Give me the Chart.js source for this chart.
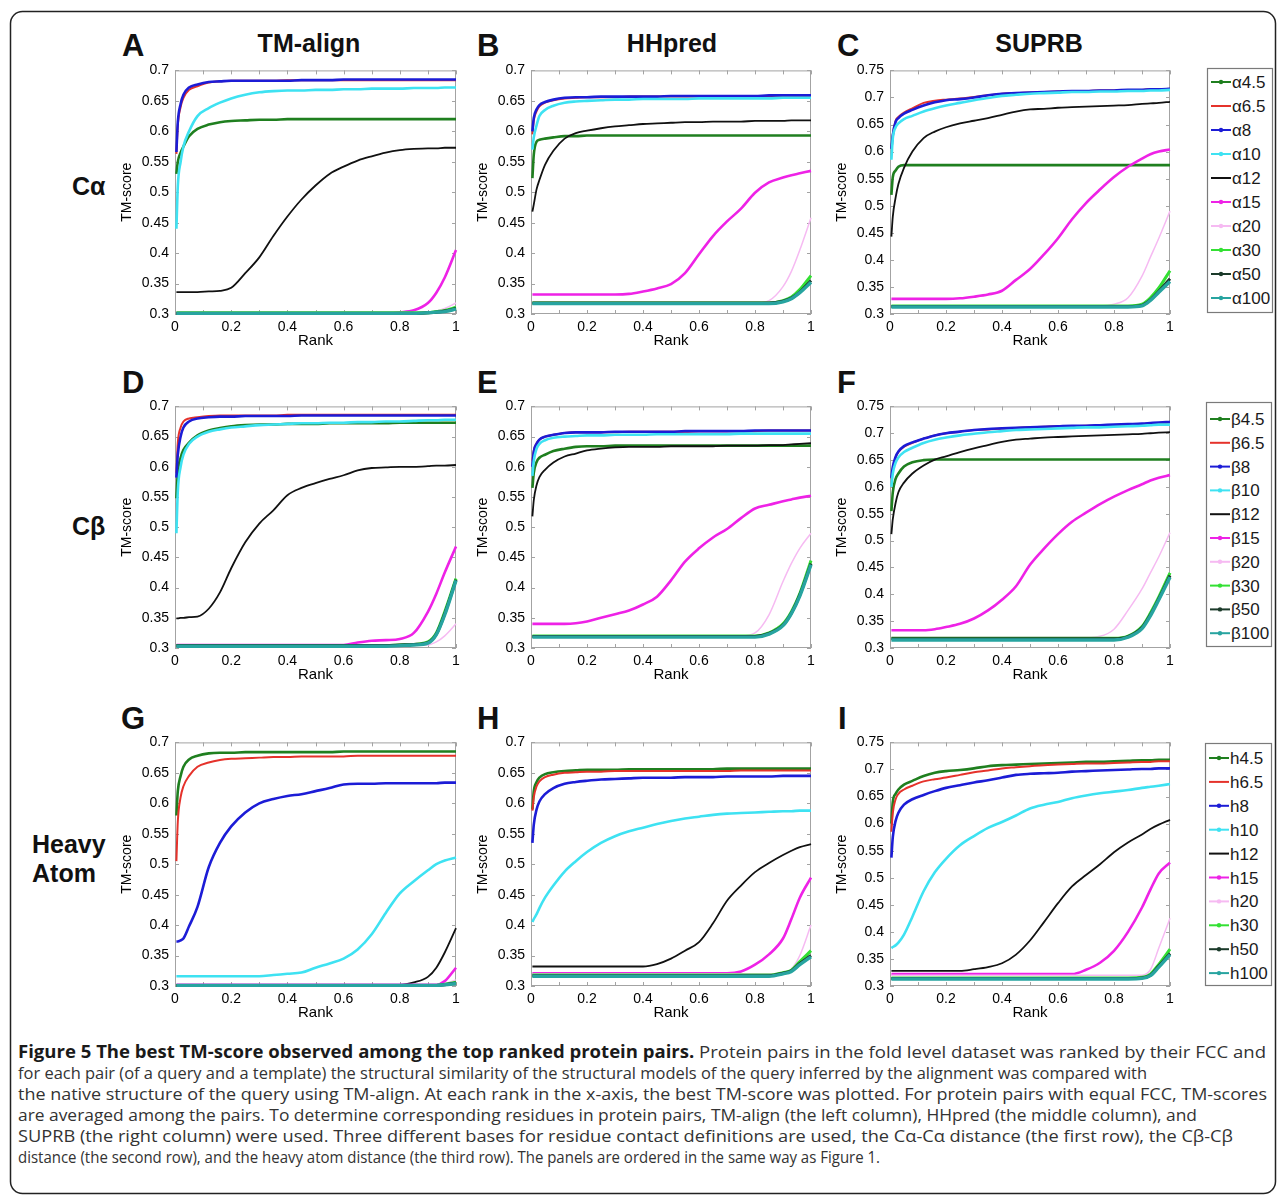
<!DOCTYPE html>
<html>
<head>
<meta charset="utf-8">
<title>Figure 5 - best TM-score among top ranked protein pairs</title>
<script src="https://cdn.jsdelivr.net/npm/chart.js@4"></script>
<style>
  html, body { margin: 0; padding: 0; background: #fff; }
  #fig { position: relative; width: 1285px; height: 1198px; background: #fff; overflow: hidden; }
  #overlay { position: absolute; left: 0; top: 0; }
  canvas { position: absolute; }
</style>
</head>
<body>
<div id="fig">
<svg id="overlay" width="1285" height="1198" xmlns="http://www.w3.org/2000/svg">
  <rect x="10.5" y="11.5" width="1265" height="1182" rx="12" ry="12" fill="none" stroke="#222" stroke-width="1.5"/>
  <g font-family="'Liberation Sans', Arial, sans-serif" font-weight="bold" fill="#111">
    <text x="122" y="56" font-size="31">A</text>
    <text x="477" y="56" font-size="31">B</text>
    <text x="837" y="56" font-size="31">C</text>
    <text x="122" y="393" font-size="31">D</text>
    <text x="477" y="393" font-size="31">E</text>
    <text x="837" y="393" font-size="31">F</text>
    <text x="121" y="729" font-size="31">G</text>
    <text x="477" y="729" font-size="31">H</text>
    <text x="838" y="729" font-size="31">I</text>
    <text x="309" y="52" font-size="25" text-anchor="middle">TM-align</text>
    <text x="672" y="52" font-size="25" text-anchor="middle">HHpred</text>
    <text x="1039" y="52" font-size="25" text-anchor="middle">SUPRB</text>
    <text x="72" y="195" font-size="25">Cα</text>
    <text x="72" y="535" font-size="25">Cβ</text>
    <text x="32" y="853" font-size="25">Heavy</text>
    <text x="32" y="882" font-size="25">Atom</text>
  </g>
  <g id="legends"></g>
  <g font-family="'Open Sans', 'Noto Sans', sans-serif" font-size="17" fill="#333">
    <text x="18" y="1058" textLength="1248" lengthAdjust="spacingAndGlyphs"><tspan font-weight="bold" fill="#1a1a1a">Figure 5 The best TM-score observed among the top ranked protein pairs.</tspan> Protein pairs in the fold level dataset was ranked by their FCC and</text>
    <text x="18" y="1079" textLength="1129" lengthAdjust="spacingAndGlyphs">for each pair (of a query and a template) the structural similarity of the structural models of the query inferred by the alignment was compared with</text>
    <text x="18" y="1100" textLength="1249" lengthAdjust="spacingAndGlyphs">the native structure of the query using TM-align. At each rank in the x-axis, the best TM-score was plotted. For protein pairs with equal FCC, TM-scores</text>
    <text x="18" y="1121" textLength="1179" lengthAdjust="spacingAndGlyphs">are averaged among the pairs. To determine corresponding residues in protein pairs, TM-align (the left column), HHpred (the middle column), and</text>
    <text x="18" y="1142" textLength="1215" lengthAdjust="spacingAndGlyphs">SUPRB (the right column) were used. Three different bases for residue contact definitions are used, the Cα-Cα distance (the first row), the Cβ-Cβ</text>
    <text x="18" y="1163" textLength="862" lengthAdjust="spacingAndGlyphs">distance (the second row), and the heavy atom distance (the third row). The panels are ordered in the same way as Figure 1.</text>
  </g>
</svg>
</div>
<script>
// rank positions shared by every curve
const RANK = [0.005, 0.01, 0.02, 0.03, 0.05, 0.08, 0.12, 0.16, 0.2, 0.25, 0.3, 0.35, 0.4,
              0.45, 0.5, 0.55, 0.6, 0.65, 0.7, 0.75, 0.8, 0.85, 0.9, 0.93, 0.96, 1.0];

// A: TM-align, C-alpha
const A45 = [0.53, 0.55, 0.565, 0.575, 0.592, 0.604, 0.611, 0.615, 0.617, 0.618, 0.619, 0.619, 0.62,
             0.62, 0.62, 0.62, 0.62, 0.62, 0.62, 0.62, 0.62, 0.62, 0.62, 0.62, 0.62, 0.62];
const A65 = [0.563, 0.61, 0.64, 0.655, 0.668, 0.674, 0.68, 0.682, 0.683, 0.683, 0.683, 0.683, 0.684,
             0.684, 0.684, 0.684, 0.684, 0.684, 0.684, 0.684, 0.684, 0.684, 0.684, 0.684, 0.684, 0.684];
const A8 = [0.566, 0.615, 0.645, 0.66, 0.672, 0.677, 0.681, 0.682, 0.683, 0.683, 0.683, 0.683, 0.683,
            0.684, 0.684, 0.684, 0.685, 0.685, 0.685, 0.685, 0.685, 0.685, 0.685, 0.685, 0.685, 0.685];
const A10 = [0.44, 0.51, 0.55, 0.575, 0.6, 0.625, 0.638, 0.647, 0.654, 0.66, 0.664, 0.666, 0.667,
             0.667, 0.668, 0.668, 0.669, 0.669, 0.67, 0.67, 0.67, 0.671, 0.671, 0.671, 0.672, 0.672];
const A12 = [0.336, 0.336, 0.336, 0.336, 0.336, 0.336, 0.337, 0.338, 0.343, 0.367, 0.393, 0.428, 0.46,
             0.488, 0.511, 0.53, 0.542, 0.552, 0.559, 0.565, 0.569, 0.571, 0.572, 0.572, 0.573, 0.573];
const A15 = [0.302, 0.302, 0.302, 0.302, 0.302, 0.302, 0.302, 0.302, 0.302, 0.302, 0.302, 0.302, 0.302,
             0.302, 0.302, 0.302, 0.302, 0.302, 0.302, 0.302, 0.303, 0.306, 0.318, 0.335, 0.36, 0.405];
const A20 = [0.302, 0.302, 0.302, 0.302, 0.302, 0.302, 0.302, 0.302, 0.302, 0.302, 0.302, 0.302, 0.302,
             0.302, 0.302, 0.302, 0.302, 0.302, 0.302, 0.302, 0.302, 0.302, 0.303, 0.305, 0.309, 0.318];
const A30 = [0.302, 0.302, 0.302, 0.302, 0.302, 0.302, 0.302, 0.302, 0.302, 0.302, 0.302, 0.302, 0.302,
             0.302, 0.302, 0.302, 0.302, 0.302, 0.302, 0.302, 0.302, 0.302, 0.302, 0.304, 0.306, 0.311];
const A50 = [0.301, 0.301, 0.301, 0.301, 0.301, 0.301, 0.301, 0.301, 0.301, 0.301, 0.301, 0.301, 0.301,
             0.301, 0.301, 0.301, 0.301, 0.301, 0.301, 0.301, 0.301, 0.301, 0.302, 0.303, 0.305, 0.309];
const A100 = [0.301, 0.301, 0.301, 0.301, 0.301, 0.301, 0.301, 0.301, 0.301, 0.301, 0.301, 0.301, 0.301,
              0.301, 0.301, 0.301, 0.301, 0.301, 0.301, 0.301, 0.301, 0.301, 0.302, 0.303, 0.304, 0.308];

// B: HHpred, C-alpha
const B45 = [0.523, 0.562, 0.583, 0.586, 0.588, 0.59, 0.592, 0.592, 0.593, 0.593, 0.593, 0.593, 0.593,
             0.593, 0.593, 0.593, 0.593, 0.593, 0.593, 0.593, 0.593, 0.593, 0.593, 0.593, 0.593, 0.593];
const B65 = [0.595, 0.618, 0.633, 0.641, 0.647, 0.651, 0.654, 0.655, 0.656, 0.656, 0.656, 0.657, 0.657,
             0.657, 0.657, 0.657, 0.657, 0.657, 0.657, 0.658, 0.658, 0.658, 0.658, 0.658, 0.658, 0.658];
const B8 = [0.6, 0.622, 0.636, 0.643, 0.648, 0.652, 0.655, 0.656, 0.656, 0.657, 0.657, 0.657, 0.657,
            0.657, 0.658, 0.658, 0.658, 0.658, 0.658, 0.658, 0.658, 0.659, 0.659, 0.659, 0.659, 0.659];
const B10 = [0.57, 0.59, 0.61, 0.625, 0.635, 0.642, 0.647, 0.649, 0.65, 0.651, 0.652, 0.652, 0.653,
             0.653, 0.653, 0.653, 0.654, 0.654, 0.654, 0.654, 0.654, 0.654, 0.655, 0.655, 0.655, 0.655];
const B12 = [0.468, 0.48, 0.505, 0.52, 0.545, 0.568, 0.588, 0.597, 0.601, 0.605, 0.608, 0.61, 0.612,
             0.613, 0.614, 0.615, 0.615, 0.616, 0.616, 0.616, 0.617, 0.617, 0.617, 0.618, 0.618, 0.618];
const B15 = [0.332, 0.332, 0.332, 0.332, 0.332, 0.332, 0.332, 0.332, 0.332, 0.332, 0.332, 0.333, 0.337,
             0.342, 0.349, 0.367, 0.398, 0.428, 0.452, 0.473, 0.499, 0.516, 0.524, 0.528, 0.531, 0.535];
const B20 = [0.318, 0.318, 0.318, 0.318, 0.318, 0.318, 0.318, 0.318, 0.318, 0.318, 0.318, 0.318, 0.318,
             0.318, 0.318, 0.318, 0.318, 0.318, 0.318, 0.318, 0.318, 0.322, 0.345, 0.37, 0.405, 0.458];
const B30 = [0.318, 0.318, 0.318, 0.318, 0.318, 0.318, 0.318, 0.318, 0.318, 0.318, 0.318, 0.318, 0.318,
             0.318, 0.318, 0.318, 0.318, 0.318, 0.318, 0.318, 0.318, 0.318, 0.322, 0.328, 0.34, 0.363];
const B50 = [0.318, 0.318, 0.318, 0.318, 0.318, 0.318, 0.318, 0.318, 0.318, 0.318, 0.318, 0.318, 0.318,
             0.318, 0.318, 0.318, 0.318, 0.318, 0.318, 0.318, 0.318, 0.318, 0.321, 0.326, 0.336, 0.355];
const B100 = [0.317, 0.317, 0.317, 0.317, 0.317, 0.317, 0.317, 0.317, 0.317, 0.317, 0.317, 0.317, 0.317,
              0.317, 0.317, 0.317, 0.317, 0.317, 0.317, 0.317, 0.317, 0.317, 0.32, 0.325, 0.335, 0.352];

// C: SUPRB, C-alpha
const C45 = [0.52, 0.553, 0.565, 0.572, 0.575, 0.575, 0.575, 0.575, 0.575, 0.575, 0.575, 0.575, 0.575,
             0.575, 0.575, 0.575, 0.575, 0.575, 0.575, 0.575, 0.575, 0.575, 0.575, 0.575, 0.575, 0.575];
const C65 = [0.605, 0.632, 0.657, 0.664, 0.672, 0.68, 0.69, 0.694, 0.696, 0.698, 0.701, 0.704, 0.707,
             0.708, 0.709, 0.71, 0.711, 0.712, 0.712, 0.713, 0.713, 0.714, 0.714, 0.715, 0.715, 0.716];
const C8 = [0.605, 0.63, 0.655, 0.662, 0.67, 0.677, 0.685, 0.691, 0.695, 0.697, 0.7, 0.704, 0.707,
            0.708, 0.709, 0.71, 0.711, 0.712, 0.712, 0.713, 0.713, 0.714, 0.714, 0.715, 0.715, 0.716];
const C10 = [0.585, 0.625, 0.645, 0.652, 0.66, 0.666, 0.674, 0.68, 0.685, 0.69, 0.695, 0.699, 0.703,
             0.705, 0.707, 0.708, 0.709, 0.71, 0.71, 0.711, 0.711, 0.712, 0.712, 0.713, 0.713, 0.714];
const C12 = [0.443, 0.48, 0.515, 0.54, 0.57, 0.6, 0.625, 0.637, 0.645, 0.652, 0.657, 0.662, 0.668,
             0.674, 0.678, 0.679, 0.681, 0.682, 0.683, 0.684, 0.685, 0.686, 0.688, 0.689, 0.69, 0.692];
const C15 = [0.328, 0.328, 0.328, 0.328, 0.328, 0.328, 0.328, 0.328, 0.328, 0.329, 0.332, 0.336, 0.343,
             0.363, 0.383, 0.41, 0.44, 0.475, 0.505, 0.53, 0.553, 0.572, 0.587, 0.595, 0.6, 0.604];
const C20 = [0.315, 0.315, 0.315, 0.315, 0.315, 0.315, 0.315, 0.315, 0.315, 0.315, 0.315, 0.315, 0.315,
             0.315, 0.315, 0.315, 0.315, 0.315, 0.315, 0.315, 0.318, 0.33, 0.37, 0.405, 0.44, 0.49];
const C30 = [0.315, 0.315, 0.315, 0.315, 0.315, 0.315, 0.315, 0.315, 0.315, 0.315, 0.315, 0.315, 0.315,
             0.315, 0.315, 0.315, 0.315, 0.315, 0.315, 0.315, 0.315, 0.315, 0.318, 0.33, 0.348, 0.38];
const C50 = [0.314, 0.314, 0.314, 0.314, 0.314, 0.314, 0.314, 0.314, 0.314, 0.314, 0.314, 0.314, 0.314,
             0.314, 0.314, 0.314, 0.314, 0.314, 0.314, 0.314, 0.314, 0.314, 0.316, 0.326, 0.342, 0.365];
const C100 = [0.313, 0.313, 0.313, 0.313, 0.313, 0.313, 0.313, 0.313, 0.313, 0.313, 0.313, 0.313, 0.313,
              0.313, 0.313, 0.313, 0.313, 0.313, 0.313, 0.313, 0.313, 0.313, 0.315, 0.325, 0.34, 0.36];

// D: TM-align, C-beta
const D45 = [0.548, 0.59, 0.615, 0.628, 0.64, 0.652, 0.66, 0.664, 0.667, 0.669, 0.67, 0.67, 0.671,
             0.671, 0.671, 0.672, 0.672, 0.672, 0.672, 0.672, 0.673, 0.673, 0.673, 0.673, 0.673, 0.673];
const D65 = [0.59, 0.64, 0.665, 0.675, 0.68, 0.682, 0.684, 0.685, 0.685, 0.685, 0.685, 0.685, 0.686,
             0.686, 0.686, 0.686, 0.686, 0.686, 0.686, 0.686, 0.686, 0.686, 0.686, 0.686, 0.686, 0.686];
const D8 = [0.582, 0.62, 0.65, 0.665, 0.675, 0.68, 0.682, 0.683, 0.683, 0.684, 0.684, 0.684, 0.684,
            0.685, 0.685, 0.685, 0.685, 0.685, 0.685, 0.685, 0.685, 0.685, 0.685, 0.685, 0.685, 0.685];
const D10 = [0.49, 0.56, 0.6, 0.62, 0.638, 0.65, 0.658, 0.662, 0.665, 0.667, 0.669, 0.67, 0.671,
             0.672, 0.672, 0.673, 0.673, 0.674, 0.674, 0.675, 0.675, 0.676, 0.677, 0.677, 0.678, 0.678];
const D12 = [0.349, 0.349, 0.35, 0.35, 0.351, 0.352, 0.365, 0.392, 0.432, 0.475, 0.506, 0.528, 0.553,
             0.565, 0.573, 0.58, 0.586, 0.594, 0.598, 0.599, 0.6, 0.6, 0.601, 0.602, 0.602, 0.603];
const D15 = [0.305, 0.305, 0.305, 0.305, 0.305, 0.305, 0.305, 0.305, 0.305, 0.305, 0.305, 0.305, 0.305,
             0.305, 0.305, 0.305, 0.305, 0.309, 0.312, 0.313, 0.315, 0.325, 0.36, 0.39, 0.425, 0.468];
const D20 = [0.305, 0.305, 0.305, 0.305, 0.305, 0.305, 0.305, 0.305, 0.305, 0.305, 0.305, 0.305, 0.305,
             0.305, 0.305, 0.305, 0.305, 0.305, 0.305, 0.305, 0.305, 0.305, 0.305, 0.31, 0.32, 0.34];
const D30 = [0.304, 0.304, 0.304, 0.304, 0.304, 0.304, 0.304, 0.304, 0.304, 0.304, 0.304, 0.304, 0.304,
             0.304, 0.304, 0.304, 0.304, 0.304, 0.304, 0.304, 0.305, 0.306, 0.31, 0.325, 0.36, 0.415];
const D50 = [0.304, 0.304, 0.304, 0.304, 0.304, 0.304, 0.304, 0.304, 0.304, 0.304, 0.304, 0.304, 0.304,
             0.304, 0.304, 0.304, 0.304, 0.304, 0.304, 0.304, 0.305, 0.306, 0.309, 0.323, 0.357, 0.413];
const D100 = [0.303, 0.303, 0.303, 0.303, 0.303, 0.303, 0.303, 0.303, 0.303, 0.303, 0.303, 0.303, 0.303,
              0.303, 0.303, 0.303, 0.303, 0.303, 0.303, 0.303, 0.304, 0.305, 0.308, 0.322, 0.355, 0.412];

// E: HHpred, C-beta
const E45 = [0.565, 0.59, 0.608, 0.615, 0.62, 0.626, 0.63, 0.633, 0.634, 0.634, 0.635, 0.635, 0.635,
             0.635, 0.635, 0.635, 0.635, 0.635, 0.635, 0.635, 0.635, 0.635, 0.635, 0.635, 0.635, 0.635];
const E65 = [0.61, 0.627, 0.639, 0.645, 0.65, 0.653, 0.656, 0.657, 0.657, 0.657, 0.657, 0.658, 0.658,
             0.658, 0.658, 0.658, 0.659, 0.659, 0.659, 0.659, 0.659, 0.66, 0.66, 0.66, 0.66, 0.66];
const E8 = [0.6, 0.625, 0.638, 0.645, 0.65, 0.653, 0.656, 0.657, 0.657, 0.657, 0.658, 0.658, 0.658,
            0.658, 0.658, 0.659, 0.659, 0.659, 0.659, 0.659, 0.66, 0.66, 0.66, 0.66, 0.66, 0.66];
const E10 = [0.585, 0.61, 0.63, 0.638, 0.644, 0.648, 0.65, 0.651, 0.652, 0.652, 0.653, 0.653, 0.653,
             0.654, 0.654, 0.654, 0.654, 0.654, 0.654, 0.655, 0.655, 0.655, 0.655, 0.655, 0.655, 0.655];
const E12 = [0.518, 0.545, 0.57, 0.583, 0.595, 0.607, 0.617, 0.622, 0.627, 0.63, 0.632, 0.633, 0.633,
             0.633, 0.634, 0.634, 0.634, 0.634, 0.635, 0.635, 0.635, 0.636, 0.636, 0.637, 0.638, 0.639];
const E15 = [0.34, 0.34, 0.34, 0.34, 0.34, 0.34, 0.34, 0.341, 0.344, 0.35, 0.356, 0.362, 0.372,
             0.385, 0.412, 0.443, 0.465, 0.483, 0.497, 0.515, 0.531, 0.537, 0.543, 0.546, 0.549, 0.552];
const E20 = [0.32, 0.32, 0.32, 0.32, 0.32, 0.32, 0.32, 0.32, 0.32, 0.32, 0.32, 0.32, 0.32,
             0.32, 0.32, 0.32, 0.32, 0.32, 0.32, 0.32, 0.325, 0.355, 0.41, 0.44, 0.465, 0.49];
const E30 = [0.32, 0.32, 0.32, 0.32, 0.32, 0.32, 0.32, 0.32, 0.32, 0.32, 0.32, 0.32, 0.32,
             0.32, 0.32, 0.32, 0.32, 0.32, 0.32, 0.32, 0.32, 0.325, 0.34, 0.36, 0.39, 0.445];
const E50 = [0.319, 0.319, 0.319, 0.319, 0.319, 0.319, 0.319, 0.319, 0.319, 0.319, 0.319, 0.319, 0.319,
             0.319, 0.319, 0.319, 0.319, 0.319, 0.319, 0.319, 0.319, 0.324, 0.338, 0.358, 0.388, 0.44];
const E100 = [0.318, 0.318, 0.318, 0.318, 0.318, 0.318, 0.318, 0.318, 0.318, 0.318, 0.318, 0.318, 0.318,
              0.318, 0.318, 0.318, 0.318, 0.318, 0.318, 0.318, 0.318, 0.323, 0.337, 0.357, 0.386, 0.438];

// F: SUPRB, C-beta
const F45 = [0.555, 0.59, 0.615, 0.625, 0.638, 0.646, 0.65, 0.651, 0.651, 0.651, 0.651, 0.651, 0.651,
             0.651, 0.651, 0.651, 0.651, 0.651, 0.651, 0.651, 0.651, 0.651, 0.651, 0.651, 0.651, 0.651];
const F65 = [0.615, 0.635, 0.655, 0.665, 0.675, 0.682, 0.69, 0.696, 0.7, 0.703, 0.706, 0.707, 0.709,
             0.71, 0.711, 0.712, 0.713, 0.713, 0.714, 0.714, 0.715, 0.716, 0.717, 0.718, 0.719, 0.72];
const F8 = [0.617, 0.637, 0.656, 0.666, 0.676, 0.683, 0.69, 0.696, 0.7, 0.703, 0.706, 0.708, 0.709,
            0.71, 0.711, 0.712, 0.713, 0.714, 0.714, 0.715, 0.716, 0.717, 0.718, 0.719, 0.72, 0.721];
const F10 = [0.6, 0.625, 0.645, 0.655, 0.665, 0.673, 0.682, 0.688, 0.692, 0.696, 0.699, 0.702, 0.704,
             0.706, 0.707, 0.708, 0.709, 0.71, 0.711, 0.711, 0.712, 0.713, 0.714, 0.715, 0.716, 0.716];
const F12 = [0.512, 0.54, 0.57, 0.59, 0.608, 0.625, 0.64, 0.651, 0.657, 0.665, 0.672, 0.678, 0.684,
             0.688, 0.69, 0.692, 0.693, 0.694, 0.695, 0.696, 0.697, 0.698, 0.699, 0.7, 0.701, 0.702];
const F15 = [0.333, 0.333, 0.333, 0.333, 0.333, 0.333, 0.333, 0.335, 0.339, 0.345, 0.355, 0.37, 0.39,
             0.415, 0.455, 0.485, 0.512, 0.535, 0.552, 0.568, 0.582, 0.594, 0.605, 0.612, 0.617, 0.622];
const F20 = [0.32, 0.32, 0.32, 0.32, 0.32, 0.32, 0.32, 0.32, 0.32, 0.32, 0.32, 0.32, 0.32,
             0.32, 0.32, 0.32, 0.32, 0.32, 0.32, 0.322, 0.335, 0.37, 0.41, 0.44, 0.47, 0.515];
const F30 = [0.318, 0.318, 0.318, 0.318, 0.318, 0.318, 0.318, 0.318, 0.318, 0.318, 0.318, 0.318, 0.318,
             0.318, 0.318, 0.318, 0.318, 0.318, 0.318, 0.318, 0.318, 0.322, 0.34, 0.365, 0.395, 0.44];
const F50 = [0.317, 0.317, 0.317, 0.317, 0.317, 0.317, 0.317, 0.317, 0.317, 0.317, 0.317, 0.317, 0.317,
             0.317, 0.317, 0.317, 0.317, 0.317, 0.317, 0.317, 0.317, 0.321, 0.338, 0.362, 0.392, 0.435];
const F100 = [0.315, 0.315, 0.315, 0.315, 0.315, 0.315, 0.315, 0.315, 0.315, 0.315, 0.315, 0.315, 0.315,
              0.315, 0.315, 0.315, 0.315, 0.315, 0.315, 0.315, 0.315, 0.32, 0.336, 0.36, 0.39, 0.432];

// G: TM-align, heavy atom
const G45 = [0.58, 0.62, 0.645, 0.66, 0.672, 0.678, 0.682, 0.683, 0.683, 0.684, 0.684, 0.684, 0.684,
             0.684, 0.684, 0.684, 0.685, 0.685, 0.685, 0.685, 0.685, 0.685, 0.685, 0.685, 0.685, 0.685];
const G65 = [0.505, 0.57, 0.61, 0.628, 0.645, 0.66, 0.667, 0.671, 0.673, 0.674, 0.675, 0.676, 0.676,
             0.677, 0.677, 0.677, 0.677, 0.678, 0.678, 0.678, 0.678, 0.678, 0.678, 0.678, 0.678, 0.678];
const G8 = [0.373, 0.373, 0.375, 0.378, 0.398, 0.43, 0.495, 0.535, 0.562, 0.585, 0.6, 0.607, 0.612,
            0.615, 0.62, 0.625, 0.631, 0.632, 0.632, 0.633, 0.633, 0.633, 0.633, 0.633, 0.634, 0.634];
const G10 = [0.316, 0.316, 0.316, 0.316, 0.316, 0.316, 0.316, 0.316, 0.316, 0.316, 0.316, 0.318, 0.32,
             0.322, 0.33, 0.337, 0.345, 0.36, 0.385, 0.42, 0.452, 0.472, 0.49, 0.5, 0.506, 0.511];
const G12 = [0.302, 0.302, 0.302, 0.302, 0.302, 0.302, 0.302, 0.302, 0.302, 0.302, 0.302, 0.302, 0.302,
             0.302, 0.302, 0.302, 0.302, 0.302, 0.302, 0.302, 0.302, 0.306, 0.315, 0.33, 0.355, 0.395];
const G15 = [0.302, 0.302, 0.302, 0.302, 0.302, 0.302, 0.302, 0.302, 0.302, 0.302, 0.302, 0.302, 0.302,
             0.302, 0.302, 0.302, 0.302, 0.302, 0.302, 0.302, 0.302, 0.302, 0.302, 0.302, 0.308, 0.33];
const G20 = [0.302, 0.302, 0.302, 0.302, 0.302, 0.302, 0.302, 0.302, 0.302, 0.302, 0.302, 0.302, 0.302,
             0.302, 0.302, 0.302, 0.302, 0.302, 0.302, 0.302, 0.302, 0.302, 0.302, 0.302, 0.304, 0.31];
const G30 = [0.301, 0.301, 0.301, 0.301, 0.301, 0.301, 0.301, 0.301, 0.301, 0.301, 0.301, 0.301, 0.301,
             0.301, 0.301, 0.301, 0.301, 0.301, 0.301, 0.301, 0.301, 0.301, 0.301, 0.301, 0.303, 0.306];
const G50 = [0.301, 0.301, 0.301, 0.301, 0.301, 0.301, 0.301, 0.301, 0.301, 0.301, 0.301, 0.301, 0.301,
             0.301, 0.301, 0.301, 0.301, 0.301, 0.301, 0.301, 0.301, 0.301, 0.301, 0.301, 0.302, 0.305];
const G100 = [0.301, 0.301, 0.301, 0.301, 0.301, 0.301, 0.301, 0.301, 0.301, 0.301, 0.301, 0.301, 0.301,
              0.301, 0.301, 0.301, 0.301, 0.301, 0.301, 0.301, 0.301, 0.301, 0.301, 0.301, 0.302, 0.304];

// H: HHpred, heavy atom
const H45 = [0.59, 0.62, 0.635, 0.642, 0.648, 0.651, 0.653, 0.654, 0.655, 0.655, 0.655, 0.656, 0.656,
             0.656, 0.656, 0.656, 0.656, 0.656, 0.657, 0.657, 0.657, 0.657, 0.657, 0.657, 0.657, 0.657];
const H65 = [0.588, 0.61, 0.628, 0.636, 0.643, 0.647, 0.65, 0.651, 0.652, 0.652, 0.653, 0.653, 0.653,
             0.653, 0.653, 0.653, 0.653, 0.653, 0.653, 0.654, 0.654, 0.654, 0.654, 0.654, 0.654, 0.654];
const H8 = [0.535, 0.565, 0.59, 0.603, 0.615, 0.625, 0.632, 0.635, 0.637, 0.639, 0.64, 0.641, 0.642,
            0.642, 0.642, 0.643, 0.643, 0.643, 0.644, 0.644, 0.644, 0.644, 0.645, 0.645, 0.645, 0.645];
const H10 = [0.405, 0.41, 0.418, 0.428, 0.445, 0.465, 0.488, 0.505, 0.52, 0.535, 0.546, 0.554, 0.56,
             0.566, 0.571, 0.575, 0.578, 0.581, 0.583, 0.584, 0.585, 0.586, 0.587, 0.587, 0.588, 0.588];
const H12 = [0.332, 0.332, 0.332, 0.332, 0.332, 0.332, 0.332, 0.332, 0.332, 0.332, 0.332, 0.332, 0.332,
             0.336, 0.345, 0.358, 0.372, 0.403, 0.44, 0.465, 0.487, 0.502, 0.515, 0.522, 0.528, 0.533];
const H15 = [0.321, 0.321, 0.321, 0.321, 0.321, 0.321, 0.321, 0.321, 0.321, 0.321, 0.321, 0.321, 0.321,
             0.321, 0.321, 0.321, 0.321, 0.321, 0.321, 0.324, 0.335, 0.352, 0.378, 0.41, 0.445, 0.478];
const H20 = [0.32, 0.32, 0.32, 0.32, 0.32, 0.32, 0.32, 0.32, 0.32, 0.32, 0.32, 0.32, 0.32,
             0.32, 0.32, 0.32, 0.32, 0.32, 0.32, 0.32, 0.32, 0.32, 0.32, 0.328, 0.35, 0.4];
const H30 = [0.318, 0.318, 0.318, 0.318, 0.318, 0.318, 0.318, 0.318, 0.318, 0.318, 0.318, 0.318, 0.318,
             0.318, 0.318, 0.318, 0.318, 0.318, 0.318, 0.318, 0.318, 0.318, 0.322, 0.326, 0.34, 0.358];
const H50 = [0.317, 0.317, 0.317, 0.317, 0.317, 0.317, 0.317, 0.317, 0.317, 0.317, 0.317, 0.317, 0.317,
             0.317, 0.317, 0.317, 0.317, 0.317, 0.317, 0.317, 0.317, 0.317, 0.321, 0.325, 0.337, 0.35];
const H100 = [0.316, 0.316, 0.316, 0.316, 0.316, 0.316, 0.316, 0.316, 0.316, 0.316, 0.316, 0.316, 0.316,
              0.316, 0.316, 0.316, 0.316, 0.316, 0.316, 0.316, 0.316, 0.316, 0.32, 0.324, 0.335, 0.348];

// I: SUPRB, heavy atom
const I45 = [0.6, 0.64, 0.655, 0.663, 0.672, 0.679, 0.688, 0.694, 0.697, 0.699, 0.702, 0.706, 0.708,
             0.709, 0.71, 0.711, 0.712, 0.713, 0.714, 0.714, 0.715, 0.716, 0.717, 0.717, 0.718, 0.718];
const I65 = [0.585, 0.62, 0.645, 0.655, 0.663, 0.67, 0.678, 0.682, 0.685, 0.69, 0.695, 0.698, 0.702,
             0.704, 0.706, 0.708, 0.709, 0.71, 0.711, 0.711, 0.712, 0.713, 0.714, 0.714, 0.715, 0.715];
const I8 = [0.537, 0.575, 0.605, 0.62, 0.635, 0.645, 0.653, 0.66, 0.666, 0.671, 0.676, 0.68, 0.685,
            0.69, 0.692, 0.693, 0.694, 0.696, 0.697, 0.698, 0.699, 0.7, 0.701, 0.701, 0.702, 0.702];
const I10 = [0.37, 0.372, 0.375, 0.38, 0.395, 0.428, 0.475, 0.51, 0.535, 0.56, 0.577, 0.592, 0.603,
             0.615, 0.628, 0.635, 0.64, 0.647, 0.652, 0.656, 0.659, 0.662, 0.666, 0.668, 0.67, 0.673];
const I12 = [0.328, 0.328, 0.328, 0.328, 0.328, 0.328, 0.328, 0.328, 0.328, 0.328, 0.331, 0.335, 0.342,
             0.358, 0.384, 0.418, 0.453, 0.484, 0.505, 0.525, 0.547, 0.565, 0.58, 0.59, 0.598, 0.607];
const I15 = [0.322, 0.322, 0.322, 0.322, 0.322, 0.322, 0.322, 0.322, 0.322, 0.322, 0.322, 0.322, 0.322,
             0.322, 0.322, 0.322, 0.322, 0.322, 0.33, 0.343, 0.365, 0.4, 0.445, 0.478, 0.508, 0.528];
const I20 = [0.32, 0.32, 0.32, 0.32, 0.32, 0.32, 0.32, 0.32, 0.32, 0.32, 0.32, 0.32, 0.32,
             0.32, 0.32, 0.32, 0.32, 0.32, 0.32, 0.32, 0.32, 0.32, 0.32, 0.33, 0.37, 0.425];
const I30 = [0.315, 0.315, 0.315, 0.315, 0.315, 0.315, 0.315, 0.315, 0.315, 0.315, 0.315, 0.315, 0.315,
             0.315, 0.315, 0.315, 0.315, 0.315, 0.315, 0.315, 0.315, 0.315, 0.316, 0.322, 0.34, 0.368];
const I50 = [0.314, 0.314, 0.314, 0.314, 0.314, 0.314, 0.314, 0.314, 0.314, 0.314, 0.314, 0.314, 0.314,
             0.314, 0.314, 0.314, 0.314, 0.314, 0.314, 0.314, 0.314, 0.314, 0.315, 0.32, 0.337, 0.36];
const I100 = [0.313, 0.313, 0.313, 0.313, 0.313, 0.313, 0.313, 0.313, 0.313, 0.313, 0.313, 0.313, 0.313,
              0.313, 0.313, 0.313, 0.313, 0.313, 0.313, 0.313, 0.313, 0.313, 0.314, 0.319, 0.335, 0.358];

const CUTOFFS = ["4.5", "6.5", "8", "10", "12", "15", "20", "30", "50", "100"];
const X_TICKS = [0, 0.2, 0.4, 0.6, 0.8, 1];

// series styling, same order as CUTOFFS
const COLORS = ["#1f7f1f", "#e5322b", "#1c1cd6", "#3ee2f2", "#111111",
                "#ee22e6", "#f6baf2", "#33e033", "#1b3a2a", "#27a4a0"];
const WIDTHS = [2.6, 2, 2.6, 2.6, 1.8, 2.6, 1.5, 3, 3, 3.4];
const MARKED = [true, false, true, true, false, true, true, true, true, true];
const FONT = "'Liberation Sans', Arial, sans-serif";

const PANELS = [
    { prefix: "α", yMax: 0.7,  box: [175, 66, 456, 314],  series: [A45, A65, A8, A10, A12, A15, A20, A30, A50, A100] },
    { prefix: "α", yMax: 0.7,  box: [531, 66, 811, 314],  series: [B45, B65, B8, B10, B12, B15, B20, B30, B50, B100] },
    { prefix: "α", yMax: 0.75, box: [890, 66, 1170, 314], series: [C45, C65, C8, C10, C12, C15, C20, C30, C50, C100] },
    { prefix: "β", yMax: 0.7,  box: [175, 402, 456, 648], series: [D45, D65, D8, D10, D12, D15, D20, D30, D50, D100] },
    { prefix: "β", yMax: 0.7,  box: [531, 402, 811, 648], series: [E45, E65, E8, E10, E12, E15, E20, E30, E50, E100] },
    { prefix: "β", yMax: 0.75, box: [890, 402, 1170, 648], series: [F45, F65, F8, F10, F12, F15, F20, F30, F50, F100] },
    { prefix: "h", yMax: 0.7,  box: [175, 738, 456, 986], series: [G45, G65, G8, G10, G12, G15, G20, G30, G50, G100] },
    { prefix: "h", yMax: 0.7,  box: [531, 738, 811, 986], series: [H45, H65, H8, H10, H12, H15, H20, H30, H50, H100] },
    { prefix: "h", yMax: 0.75, box: [890, 738, 1170, 986], series: [I45, I65, I8, I10, I12, I15, I20, I30, I50, I100] },
];

const LEGENDS = [
    { prefix: "α", box: [1207, 68, 65, 244],  first: 82,  step: 24 },
    { prefix: "β", box: [1206, 402, 65, 244], first: 419, step: 23.8 },
    { prefix: "h", box: [1205, 743, 66, 242], first: 758, step: 23.9 },
];

const fmt = v => String(+Number(v).toFixed(2));

// MATLAB-like box with inward tick marks
const boxTicks = {
    id: "boxTicks",
    beforeDatasetsDraw(chart) {
        const { ctx, chartArea: a, scales: { x, y } } = chart;
        ctx.save();
        ctx.strokeStyle = "#a3a3a3";
        ctx.lineWidth = 1;
        ctx.strokeRect(a.left + 0.5, a.top + 0.5, a.right - a.left - 1, a.bottom - a.top - 1);
        ctx.beginPath();
        for (let i = 0; i <= 10; i++) {
            const px = Math.round(x.getPixelForValue(i / 10)) + 0.5;
            ctx.moveTo(px, a.top); ctx.lineTo(px, a.top + 4);
            ctx.moveTo(px, a.bottom); ctx.lineTo(px, a.bottom - 4);
        }
        y.ticks.forEach(t => {
            const py = Math.round(y.getPixelForValue(t.value)) + 0.5;
            ctx.moveTo(a.left, py); ctx.lineTo(a.left + 4, py);
            ctx.moveTo(a.right, py); ctx.lineTo(a.right - 4, py);
        });
        ctx.stroke();
        ctx.restore();
    }
};

function drawPanel(p) {
    const [l, t, r, b] = p.box;
    const canvas = document.createElement("canvas");
    canvas.width = r - l + 72;
    canvas.height = b - t + 46;
    canvas.style.left = (l - 60) + "px";
    canvas.style.top = (t - 10) + "px";
    document.getElementById("fig").appendChild(canvas);

    new Chart(canvas, {
        type: "line",
        data: {
            datasets: p.series.map((vals, i) => ({
                label: p.prefix + CUTOFFS[i],
                data: RANK.map((rk, k) => ({ x: rk, y: vals[k] })),
                borderColor: COLORS[i],
                backgroundColor: COLORS[i],
                borderWidth: WIDTHS[i],
                pointRadius: 0,
                cubicInterpolationMode: "monotone",
                order: CUTOFFS.length - i,
                clip: 4,
            })),
        },
        options: {
            responsive: false,
            animation: false,
            events: [],
            layout: { padding: { top: 10, right: 12, left: 0, bottom: 0 } },
            plugins: { legend: { display: false }, tooltip: { enabled: false } },
            scales: {
                x: {
                    type: "linear", min: 0, max: 1,
                    grid: { display: false, drawTicks: false }, border: { display: false },
                    afterBuildTicks: s => { s.ticks = X_TICKS.map(v => ({ value: v })); },
                    ticks: { padding: 5, maxRotation: 0, autoSkip: false, color: "#000",
                             font: { family: FONT, size: 14 }, callback: fmt },
                    title: { display: true, text: "Rank", color: "#000",
                             font: { family: FONT, size: 15 }, padding: { top: 0, bottom: 0 } },
                    afterFit: s => { s.height = 36; },
                },
                y: {
                    type: "linear", min: 0.3, max: p.yMax,
                    grid: { display: false, drawTicks: false }, border: { display: false },
                    ticks: { stepSize: 0.05, padding: 6, autoSkip: false, color: "#000",
                             font: { family: FONT, size: 14 }, callback: fmt },
                    title: { display: true, text: "TM-score", color: "#000",
                             font: { family: FONT, size: 14 }, padding: { top: 4, bottom: 0 } },
                    afterFit: s => { s.width = 60; },
                },
            },
        },
        plugins: [boxTicks],
    });
}

function drawLegend(lg) {
    const ns = "http://www.w3.org/2000/svg";
    const g = document.getElementById("legends");
    const [x, y, w, h] = lg.box;
    const mk = (tag, attrs) => {
        const el = document.createElementNS(ns, tag);
        Object.entries(attrs).forEach(([k, v]) => el.setAttribute(k, v));
        g.appendChild(el);
        return el;
    };
    mk("rect", { x: x + 0.5, y: y + 0.5, width: w, height: h, fill: "#fff", stroke: "#7a7a7a", "stroke-width": 1.2 });
    CUTOFFS.forEach((c, i) => {
        const cy = lg.first + i * lg.step;
        mk("line", { x1: x + 4, y1: cy, x2: x + 24, y2: cy, stroke: COLORS[i], "stroke-width": 2 });
        if (MARKED[i]) mk("circle", { cx: x + 14, cy: cy, r: 2.2, fill: COLORS[i] });
        const t = mk("text", { x: x + 25, y: cy + 6, "font-family": FONT, "font-size": 17, fill: "#1a1a1a" });
        t.textContent = lg.prefix + c;
    });
}

PANELS.forEach(drawPanel);
LEGENDS.forEach(drawLegend);
</script>
</body>
</html>
